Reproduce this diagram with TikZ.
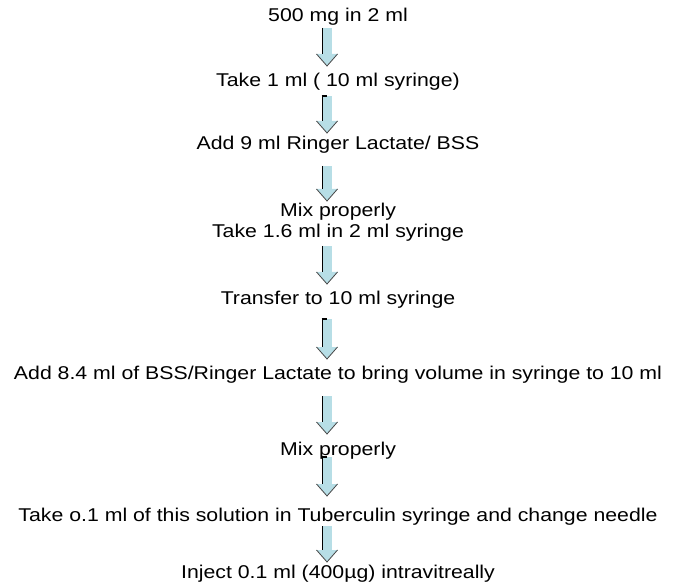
\documentclass[tikz,border=0pt]{standalone}
\usepackage{fontspec}
\setmainfont{Liberation Sans}[FakeStretch=1.15]
\usetikzlibrary{calc}
\definecolor{shaftblue}{RGB}{183,222,230}
\definecolor{headline}{RGB}{70,70,70}
\newcommand\blockarrow[3][]{%
  \fill[shaftblue] ($(#2)+(-4.5,0)$) rectangle ($(#3)+(4.5,-12)$);
  \fill[shaftblue] ($(#3)+(-10.5,-12)$) -- (#3) -- ($(#3)+(10.5,-12)$) -- cycle;
  \draw[headline, line width=0.8pt, line join=miter] ($(#3)+(-10.5,-12)$) -- (#3) -- ($(#3)+(10.5,-12)$);
  \draw[black, line width=1.8pt, #1] ($(#2)+(-4.5,0)$) -- ($(#3)+(-4.5,-12)$);
}
\begin{document}
\begin{tikzpicture}[x=1pt,y=-1pt,
  lbl/.style={anchor=base, inner sep=0pt, align=center, font=\fontsize{18.5}{18}\selectfont}]
\useasboundingbox (0,0) rectangle (677,585);
\node[lbl] (t1) at (338,22) {500 mg in 2 ml};
\node[lbl] (t2) at (338,87) {Take 1 ml ( 10 ml syringe)};
\node[lbl] (t3) at (338,150) {Add 9 ml Ringer Lactate/ BSS};
\node[lbl] (t4) at (338,217) {Mix properly};
\node[lbl] (t5) at (338,238) {Take 1.6 ml in 2 ml syringe};
\node[lbl] (t6) at (338,304) {Transfer to 10 ml syringe};
\node[lbl] (t7) at (338,379) {Add 8.4 ml of BSS/Ringer Lactate to bring volume in syringe to 10 ml};
\node[lbl] (t8) at (338,455) {Mix properly};
\node[lbl] (t9) at (338,521) {Take o.1 ml of this solution in Tuberculin syringe and change needle};
\node[lbl] (t10) at (338,578) {Inject 0.1 ml (400µg) intravitreally};

\coordinate (a1s) at (327,28);  \coordinate (a1e) at (327,66);
\coordinate (a2s) at (327,96);  \coordinate (a2e) at (327,133);
\coordinate (a3s) at (327,166); \coordinate (a3e) at (327,201);
\coordinate (a4s) at (327,246); \coordinate (a4e) at (327,284);
\coordinate (a5s) at (327,319); \coordinate (a5e) at (327,359);
\coordinate (a6s) at (327,396); \coordinate (a6e) at (327,434);
\coordinate (a7s) at (327,457); \coordinate (a7e) at (327,496);
\coordinate (a8s) at (327,526); \coordinate (a8e) at (327,562);

\blockarrow{a1s}{a1e}
\blockarrow{a2s}{a2e}
\draw[black, line width=1.4pt] ($(a2s)+(-5.3,0)$) -- ($(a2s)+(-0.5,0)$);
\blockarrow{a3s}{a3e}
\blockarrow{a4s}{a4e}
\blockarrow{a5s}{a5e}
\draw[black, line width=1.4pt] ($(a5s)+(-5.3,0)$) -- ($(a5s)+(-0.5,0)$);
\blockarrow{a6s}{a6e}
\blockarrow{a7s}{a7e}
\draw[black, line width=1.4pt] ($(a7s)+(-5.3,0)$) -- ($(a7s)+(-0.5,0)$);
\blockarrow{a8s}{a8e}
\end{tikzpicture}
\end{document}
